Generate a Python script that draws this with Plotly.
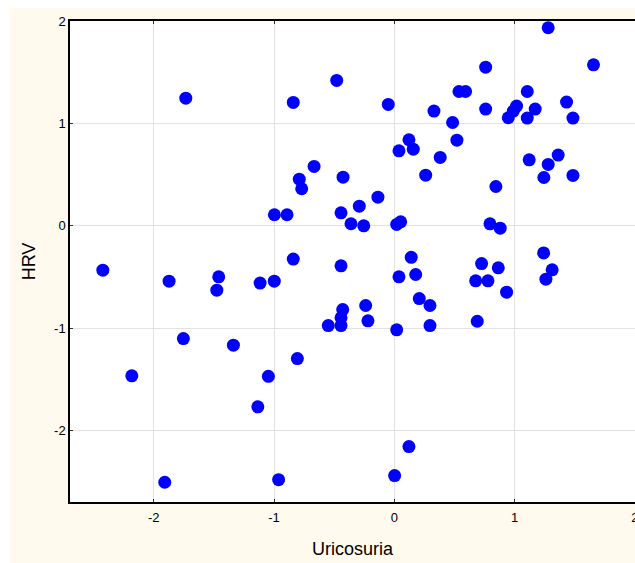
import plotly.graph_objects as go

# Standardised uricosuria vs heart-rate variability (z-scores)
uricosuria = [
    -1.734, -0.479, -0.840, -0.050, 0.330, 0.485, 0.122, 0.039, 0.158, 0.382,
    0.261, -0.667, -0.790, -0.770, -0.426, -0.136, -0.291, -0.443, -0.360, -0.254,
    -0.997, -0.892, 0.020, 0.053, -0.840, -0.443, 0.141, 1.280, 1.657, 0.760,
    0.538, 0.593, 1.106, 0.760, 1.017, 0.990, 0.948, 1.106, 1.172, 1.433,
    1.486, 0.521, 1.122, 1.363, 1.280, 1.244, 1.486, 0.845, 0.796, 0.881,
    1.242, 0.726, 0.865, 0.677, 0.779, 0.934, 0.690, 1.313, 1.261, -2.424,
    -1.873, -1.460, -1.476, -1.116, -0.998, -1.754, -1.338, -2.183, -1.135, -1.047,
    -0.806, -1.909, -0.962, 0.039, 0.178, 0.208, 0.297, 0.297, 0.020, -0.238,
    -0.219, -0.429, -0.443, -0.443, -0.549, 0.122, 0.003,
]
hrv = [
    1.248, 1.421, 1.206, 1.186, 1.121, 1.010, 0.841, 0.733, 0.749, 0.668,
    0.495, 0.580, 0.456, 0.362, 0.475, 0.280, 0.192, 0.127, 0.020, 0.000,
    0.108, 0.108, 0.013, 0.039, -0.325, -0.391, -0.308, 1.936, 1.574, 1.551,
    1.313, 1.313, 1.313, 1.141, 1.170, 1.121, 1.056, 1.053, 1.141, 1.209,
    1.053, 0.837, 0.645, 0.691, 0.600, 0.472, 0.492, 0.384, 0.019, -0.023,
    -0.265, -0.369, -0.411, -0.538, -0.538, -0.649, -0.933, -0.430, -0.522, -0.434,
    -0.541, -0.499, -0.629, -0.560, -0.541, -1.102, -1.167, -1.467, -1.770, -1.471,
    -1.298, -2.507, -2.482, -0.499, -0.476, -0.711, -0.779, -0.975, -1.017, -0.779,
    -0.929, -0.819, -0.900, -0.975, -0.975, -2.158, -2.442,
]

x_ticks = [-2, -1, 0, 1, 2]
y_ticks = [-2, -1, 0, 1, 2]

W, H = 635, 563
ML, MR, MT, MB = 70, 0, 21, 61
pw, ph = W - ML - MR, H - MT - MB

def px_to_paper_x(px):
    return (px - ML) / pw

def px_to_paper_y(py):
    return (H - MB - py) / ph

fig = go.Figure(
    go.Scatter(
        x=uricosuria,
        y=hrv,
        mode="markers",
        marker=dict(color="#0000FF", size=13, line=dict(width=0)),
        hoverinfo="x+y",
    )
)

font = "Liberation Sans, Arial, sans-serif"

fig.update_layout(
    width=W,
    height=H,
    margin=dict(l=ML, r=MR, t=MT, b=MB, pad=0, autoexpand=False),
    paper_bgcolor="#FFF9EE",
    plot_bgcolor="#FFFFFF",
    showlegend=False,
    font=dict(family=font, color="#000000", size=13),
    shapes=[
        # white band along the top and left edges of the page
        dict(type="rect", xref="paper", yref="paper",
             x0=px_to_paper_x(0), x1=px_to_paper_x(W),
             y0=px_to_paper_y(8), y1=px_to_paper_y(0),
             fillcolor="#FFFFFF", line=dict(width=0), layer="below"),
        dict(type="rect", xref="paper", yref="paper",
             x0=px_to_paper_x(0), x1=px_to_paper_x(10),
             y0=px_to_paper_y(H), y1=px_to_paper_y(0),
             fillcolor="#FFFFFF", line=dict(width=0), layer="below"),
    ],
)

fig.update_xaxes(
    range=[-2.697, 2.002],
    tickvals=x_ticks,
    ticktext=[str(v) for v in x_ticks],
    showgrid=True, gridcolor="#E2E2E2", gridwidth=1,
    zeroline=False,
    showline=True, linecolor="#000000", linewidth=1.5,
    mirror="ticks",
    ticks="inside", ticklen=3, tickcolor="#333333",
    ticklabeloverflow="allow",
    ticklabelstandoff=3,
    automargin=False,
    tickfont=dict(size=13),
    title=dict(text="Uricosuria", font=dict(size=18), standoff=18),
)
fig.update_yaxes(
    range=[-2.70, 2.002],
    tickvals=y_ticks,
    ticktext=[str(v) for v in y_ticks],
    showgrid=True, gridcolor="#E2E2E2", gridwidth=1,
    zeroline=False,
    showline=True, linecolor="#000000", linewidth=1.5,
    mirror=False,
    ticks="inside", ticklen=3, tickcolor="#333333",
    ticklabeloverflow="allow",
    automargin=False,
    tickfont=dict(size=13),
    title=dict(text="HRV", font=dict(size=18), standoff=14),
)

fig.write_html("out.html")
